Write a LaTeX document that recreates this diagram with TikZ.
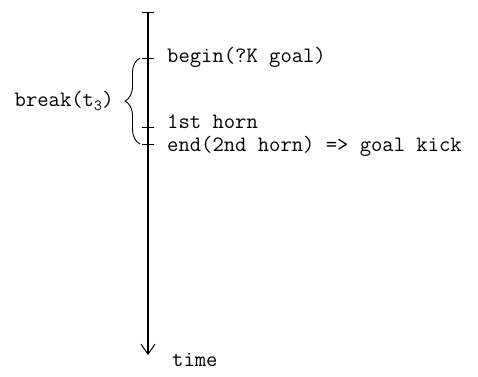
\documentclass[tikz,border=0pt]{standalone}
\usetikzlibrary{arrows.meta,decorations.pathreplacing}
\tikzset{
  evlabel/.style={anchor=west,inner sep=0pt,font=\ttfamily\fontsize{22}{22}\selectfont},
  tickmark/.style={line width=0.9pt}
}
\begin{document}
\begin{tikzpicture}[x=1pt,y=-1pt]
  \useasboundingbox (0,0) rectangle (478,376);
  \coordinate (top) at (148,12);
  \coordinate (bot) at (148,355);
  \coordinate (tb) at (148,58);
  \coordinate (th) at (148,127);
  \coordinate (te) at (148,144);
  \draw[line width=1.3pt,-{Straight Barb[length=10pt,width=14pt,line width=1pt]}] (top) -- (bot);
  \draw[tickmark] ([xshift=-6pt]top) -- ([xshift=6pt]top);
  \draw[tickmark] ([xshift=-6pt]tb) -- ([xshift=6pt]tb);
  \draw[tickmark] ([xshift=-6pt]th) -- ([xshift=6pt]th);
  \draw[tickmark] ([xshift=-6pt]te) -- ([xshift=6pt]te);
  \draw[line width=0.9pt,decorate,decoration={brace,amplitude=15pt}]
    ([xshift=-8pt]te) -- ([xshift=-8pt]tb);
  \node[evlabel] (begin) at (167,57) {begin(?K goal)};
  \node[evlabel] (horn) at (167,122) {1st horn};
  \node[evlabel] (end) at (167,146) {end(2nd horn) => goal kick};
  \node[evlabel] (time) at (172,360) {time};
  \node[evlabel,anchor=east] (brk) at (114,101) {break(t\textsubscript{3})};
\end{tikzpicture}
\end{document}
